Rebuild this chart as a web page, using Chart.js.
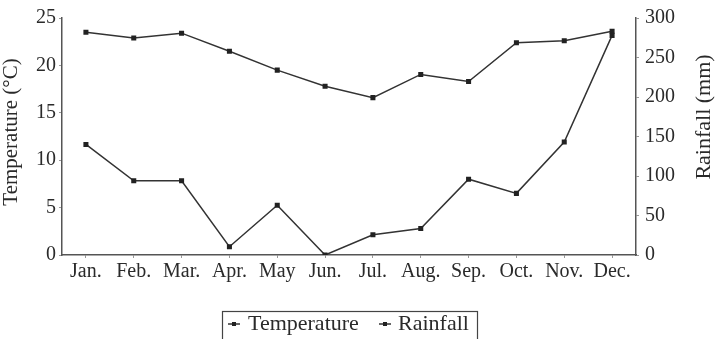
<!DOCTYPE html>
<html>
<head>
<meta charset="utf-8">
<script src="https://cdn.jsdelivr.net/npm/chart.js@4"></script>
<style>
  html, body { margin: 0; padding: 0; background: #fff; }
  #wrap { width: 715px; height: 339px; }
</style>
</head>
<body>
<div id="wrap"><canvas id="climateChart" width="715" height="339"></canvas></div>
<script>
// données
const months = ['Jan.', 'Feb.', 'Mar.', 'Apr.', 'May', 'Jun.', 'Jul.', 'Aug.', 'Sep.', 'Oct.', 'Nov.', 'Dec.'];
const temperature = [23.5, 22.9, 23.4, 21.5, 19.5, 17.8, 16.6, 19.05, 18.3, 22.4, 22.6, 23.6];
const rainfall = [140, 94, 94, 10.5, 63, 0, 25.5, 33.5, 96, 78, 143, 278];
const tempTicks = [0, 5, 10, 15, 20, 25];
const rainTicks = [0, 50, 100, 150, 200, 250, 300];
const tempTitle = 'Temperature (°C)';
const rainTitle = 'Rainfall (mm)';

const serif = "'Liberation Serif', 'DejaVu Serif', serif";
const ink = '#2a2a2a';
const axisGray = '#555';

// titres des axes (les deux lus de bas en haut) + légende encadrée
const extras = {
    id: 'extras',
    afterDraw(chart) {
        const ctx = chart.ctx;
        ctx.save();
        ctx.fillStyle = ink;
        ctx.textAlign = 'center';
        ctx.textBaseline = 'middle';
        [[11, 132, tempTitle, 21], [704, 117, rainTitle, 22]].forEach(t => {
            ctx.save();
            ctx.translate(t[0], t[1]);
            ctx.rotate(-Math.PI / 2);
            ctx.font = t[3] + 'px ' + serif;
            ctx.fillText(t[2], 0, 0);
            ctx.restore();
        });

        ctx.strokeStyle = '#444';
        ctx.lineWidth = 1.2;
        ctx.strokeRect(222.5, 311.5, 255, 30);
        ctx.font = '22px ' + serif;
        ctx.textAlign = 'left';
        var items = [{x: 228, tx: 248}, {x: 379, tx: 398}];
        chart.data.datasets.forEach((ds, i) => {
            var it = items[i];
            ctx.strokeStyle = ds.borderColor;
            ctx.lineWidth = 1.5;
            ctx.beginPath();
            ctx.moveTo(it.x, 324);
            ctx.lineTo(it.x + 12, 324);
            ctx.stroke();
            ctx.fillStyle = ds.pointBackgroundColor;
            ctx.fillRect(it.x + 4, 322, 4, 4);
            ctx.fillStyle = ink;
            ctx.fillText(ds.label, it.tx, 324);
        });
        ctx.restore();
    }
};

const ctx = document.getElementById('climateChart').getContext('2d');
const climateChart = new Chart(ctx, {
    type: 'line',
    data: {
        labels: months,
        datasets: [{
            label: 'Temperature',
            data: temperature,
            yAxisID: 'y',
            borderColor: '#333',
            borderWidth: 1.5,
            pointStyle: 'rect',
            pointRadius: 2.5,
            pointBackgroundColor: '#222',
            pointBorderColor: '#222',
            tension: 0
        }, {
            label: 'Rainfall',
            data: rainfall,
            yAxisID: 'y1',
            borderColor: '#333',
            borderWidth: 1.5,
            pointStyle: 'rect',
            pointRadius: 2.5,
            pointBackgroundColor: '#222',
            pointBorderColor: '#222',
            tension: 0
        }]
    },
    options: {
        responsive: false,
        animation: false,
        layout: { padding: { top: 16, left: 0, right: 0, bottom: 0 } },
        plugins: {
            legend: { display: false },
            tooltip: { enabled: false }
        },
        scales: {
            x: {
                offset: true,
                border: { color: axisGray, width: 1.5 },
                grid: { drawOnChartArea: false, tickLength: 3, color: '#999' },
                ticks: { color: ink, font: { family: serif, size: 20 }, padding: 2, maxRotation: 0 },
                afterFit: function(scale) { scale.height = 84; }
            },
            y: {
                position: 'left',
                min: 0,
                max: 25,
                afterBuildTicks: function(scale) { scale.ticks = tempTicks.map(v => ({ value: v })); },
                border: { color: axisGray, width: 1.5 },
                grid: { drawOnChartArea: false, tickLength: 3, color: '#999' },
                ticks: { color: ink, font: { family: serif, size: 20 }, padding: 3 },
                afterFit: function(scale) { scale.width = 62; }
            },
            y1: {
                position: 'right',
                min: 0,
                max: 300,
                afterBuildTicks: function(scale) { scale.ticks = rainTicks.map(v => ({ value: v })); },
                border: { color: axisGray, width: 1.5 },
                grid: { drawOnChartArea: false, tickLength: 3, color: '#999' },
                ticks: { color: ink, font: { family: serif, size: 20 }, padding: 6 },
                afterFit: function(scale) { scale.width = 79; }
            }
        }
    },
    plugins: [extras]
});
</script>
</body>
</html>
